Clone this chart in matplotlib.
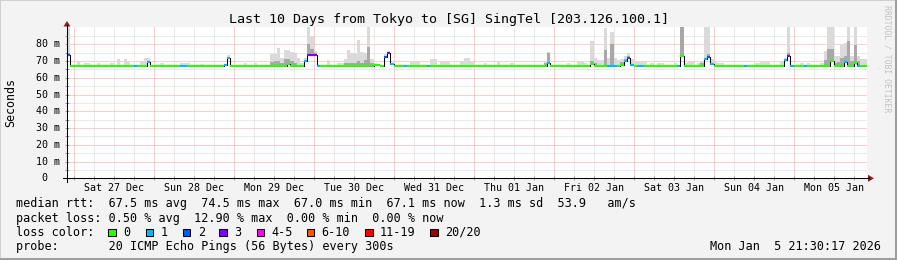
import numpy as np
import matplotlib
matplotlib.use("Agg")
import matplotlib.pyplot as plt
from matplotlib.patches import Rectangle, Polygon
from matplotlib.lines import Line2D

# ---------------- data (hourly bins) ----------------
TITLE = "Last 10 Days from Tokyo to [SG] SingTel [203.126.100.1]"
START_HOUR = -2.1          # graph start, hours relative to Sat 27 Dec 00:00
DAY_LABELS = ["Sat 27 Dec", "Sun 28 Dec", "Mon 29 Dec", "Tue 30 Dec", "Wed 31 Dec",
              "Thu 01 Jan", "Fri 02 Jan", "Sat 03 Jan", "Sun 04 Jan", "Mon 05 Jan"]
Y_TICKS = [0, 10, 20, 30, 40, 50, 60, 70, 80]
Y_LABELS = ["0", "10 m", "20 m", "30 m", "40 m", "50 m", "60 m", "70 m", "80 m"]

MEDIAN_MS = [
    73.4, 67.3, 67.1, 67.1, 67.1, 67.1, 67.1, 67.1, 67.1, 67.1, 67.1, 67.1, 67.1, 67.1, 67.1, 67.1, 67.1, 67.1, 67.1, 67.1, 67.1, 67.1, 67.1, 67.1,
    69.5, 67.1, 67.1, 67.1, 67.1, 67.1, 67.1, 67.1, 67.1, 67.1, 67.1, 67.1, 67.1, 67.1, 67.1, 67.1, 67.1, 67.1, 67.1, 67.1, 67.1, 67.1, 67.1, 67.9,
    71.5, 67.1, 67.1, 67.1, 67.1, 67.1, 67.1, 67.1, 67.1, 67.1, 67.1, 67.1, 67.1, 67.1, 67.1, 67.1, 67.1, 67.1, 68.4, 67.1, 67.1, 67.1, 67.1, 70.0,
    73.8, 73.8, 73.8, 67.2, 67.1, 67.1, 67.1, 67.1, 67.1, 67.1, 67.1, 67.1, 67.1, 67.1, 67.1, 67.1, 67.1, 67.1, 67.1, 67.1, 67.9, 67.9, 67.2, 72.6,
    74.6, 68.0, 67.1, 67.1, 67.1, 67.1, 67.1, 67.1, 67.1, 67.1, 67.1, 67.1, 67.1, 67.1, 67.1, 67.1, 67.1, 67.1, 67.1, 67.1, 67.1, 67.1, 67.1, 67.1,
    67.1, 67.1, 67.1, 67.1, 67.1, 67.1, 67.1, 67.1, 67.1, 67.1, 67.1, 67.1, 67.1, 67.1, 67.1, 67.1, 67.1, 67.1, 67.1, 67.1, 67.1, 67.1, 67.1, 67.1,
    69.0, 67.1, 67.1, 67.1, 67.1, 67.1, 67.1, 67.1, 67.1, 67.1, 67.1, 67.1, 67.1, 68.3, 67.1, 67.1, 67.1, 67.1, 67.1, 67.1, 67.1, 67.1, 67.8, 70.2,
    72.0, 67.5, 67.1, 67.1, 67.1, 67.1, 67.1, 67.1, 67.1, 67.1, 67.1, 67.1, 67.1, 67.1, 67.1, 67.1, 73.0, 67.1, 67.1, 67.1, 67.1, 67.1, 67.1, 71.4,
    72.6, 68.3, 67.1, 67.1, 67.1, 67.1, 67.1, 67.1, 67.1, 67.1, 67.1, 67.1, 67.1, 67.1, 67.1, 67.1, 67.1, 67.1, 67.1, 67.1, 67.1, 67.1, 67.1, 70.6,
    73.2, 67.3, 67.1, 67.1, 67.1, 67.1, 67.1, 67.1, 67.1, 67.1, 67.1, 67.1, 67.1, 70.2, 67.1, 67.1, 67.1, 69.2, 67.1, 67.1, 68.8, 67.3, 67.1, 67.1,
]

LOSS_PINGS = [
    2, 0, 0, 0, 0, 0, 0, 0, 0, 0, 0, 0, 0, 0, 0, 0, 0, 0, 0, 0, 1, 0, 0, 0,
    1, 0, 0, 0, 0, 0, 0, 0, 0, 0, 1, 1, 0, 0, 0, 0, 0, 0, 0, 0, 0, 0, 0, 1,
    1, 0, 0, 0, 0, 0, 0, 0, 0, 0, 0, 0, 0, 0, 0, 0, 0, 0, 0, 0, 0, 0, 0, 1,
    3, 3, 3, 1, 0, 0, 0, 0, 0, 0, 0, 0, 0, 0, 0, 0, 0, 0, 0, 0, 0, 0, 0, 2,
    3, 1, 0, 0, 0, 1, 0, 0, 0, 0, 0, 0, 1, 0, 0, 0, 0, 0, 0, 0, 0, 0, 0, 0,
    0, 0, 0, 0, 0, 0, 0, 0, 0, 0, 0, 0, 0, 0, 0, 0, 0, 0, 0, 0, 0, 0, 0, 0,
    1, 0, 0, 0, 0, 0, 0, 0, 0, 0, 0, 0, 0, 0, 0, 0, 0, 0, 1, 1, 1, 0, 0, 1,
    2, 1, 0, 1, 1, 0, 0, 0, 0, 0, 0, 0, 0, 0, 0, 1, 0, 0, 0, 0, 0, 0, 0, 1,
    2, 1, 0, 0, 0, 0, 0, 0, 0, 0, 0, 1, 0, 0, 0, 0, 0, 0, 0, 0, 0, 0, 0, 1,
    3, 1, 0, 0, 0, 1, 0, 0, 0, 0, 0, 0, 0, 0, 0, 0, 0, 1, 0, 0, 0, 1, 0, 0,
]

SMOKE_MAX_MS = [
    90.0, 67.3, 67.1, 69.5, 67.1, 68.8, 68.8, 67.1, 67.1, 69.0, 67.1, 67.1, 67.1, 68.5, 67.1, 71.0, 67.1, 71.0, 69.5, 67.1, 67.1, 67.1, 70.0, 71.5,
    72.0, 67.1, 67.1, 67.1, 68.5, 67.1, 67.1, 67.1, 67.1, 67.1, 68.8, 68.8, 68.8, 67.1, 67.1, 67.1, 68.0, 67.1, 67.1, 67.1, 67.1, 67.1, 67.1, 67.9,
    73.4, 67.1, 67.1, 67.1, 67.1, 69.0, 67.1, 67.1, 69.0, 67.1, 67.1, 67.1, 67.1, 74.4, 74.4, 77.8, 72.0, 76.4, 76.4, 75.5, 75.0, 72.0, 69.0, 72.0,
    90.0, 85.0, 76.0, 67.2, 67.1, 67.1, 70.4, 67.1, 67.1, 68.5, 68.5, 71.0, 76.4, 74.6, 74.6, 82.4, 75.4, 75.0, 90.0, 71.0, 68.5, 67.9, 67.2, 74.0,
    76.0, 68.0, 67.1, 67.1, 67.1, 67.1, 67.1, 69.4, 69.4, 69.4, 67.1, 67.1, 67.1, 71.0, 71.0, 67.1, 69.5, 69.5, 69.5, 67.1, 67.1, 67.1, 70.0, 71.5,
    71.5, 70.0, 67.1, 67.1, 67.1, 68.5, 67.1, 67.1, 67.1, 69.5, 67.1, 67.1, 67.1, 68.5, 67.1, 67.1, 67.1, 67.1, 67.1, 67.1, 67.1, 67.1, 67.1, 70.0,
    75.5, 67.1, 67.1, 67.1, 67.1, 67.1, 69.0, 67.1, 67.1, 69.5, 70.0, 69.0, 67.1, 82.0, 72.0, 70.5, 70.5, 89.5, 72.0, 87.0, 72.0, 70.5, 71.0, 73.0,
    75.0, 71.0, 70.0, 69.5, 69.5, 69.5, 67.1, 69.0, 67.1, 69.0, 69.0, 67.1, 67.1, 67.1, 68.5, 67.1, 90.0, 69.0, 69.5, 69.5, 67.1, 69.0, 70.0, 90.0,
    90.0, 71.0, 69.5, 68.5, 68.5, 67.1, 67.1, 67.1, 67.1, 67.1, 67.1, 67.1, 67.1, 67.1, 69.0, 69.0, 69.5, 69.5, 69.5, 67.1, 67.1, 67.1, 70.0, 72.0,
    90.0, 67.3, 67.1, 67.1, 69.0, 67.1, 69.0, 67.1, 67.1, 67.1, 69.0, 76.2, 90.0, 90.0, 73.2, 73.2, 80.0, 81.0, 90.0, 73.0, 90.0, 73.0, 71.0, 71.0,
]

SMOKE_DARK_MS = [
    74.5, 67.3, 67.1, 67.1, 67.1, 67.1, 67.1, 67.1, 67.1, 67.1, 67.1, 67.1, 67.1, 67.1, 67.1, 67.1, 67.1, 67.1, 67.1, 67.1, 67.1, 67.1, 67.1, 67.1,
    70.0, 67.1, 67.1, 67.1, 67.1, 67.1, 67.1, 67.1, 67.1, 67.1, 67.1, 67.1, 67.1, 67.1, 67.1, 67.1, 67.1, 67.1, 67.1, 67.1, 67.1, 67.1, 67.1, 67.9,
    72.0, 67.1, 67.1, 67.1, 67.1, 67.1, 67.1, 67.1, 67.1, 67.1, 67.1, 67.1, 67.1, 69.5, 70.0, 70.0, 69.0, 71.0, 71.0, 70.0, 69.0, 67.1, 67.1, 70.0,
    80.0, 77.0, 74.5, 67.2, 67.1, 67.1, 67.1, 67.1, 67.1, 67.1, 67.1, 68.5, 69.0, 68.5, 69.0, 70.0, 69.0, 70.5, 78.4, 68.5, 67.9, 67.9, 67.2, 73.0,
    75.0, 68.0, 67.1, 67.1, 67.1, 67.1, 67.1, 67.1, 67.1, 67.1, 67.1, 67.1, 67.1, 67.1, 67.1, 67.1, 67.1, 67.1, 67.1, 67.1, 67.1, 67.1, 67.1, 67.1,
    67.1, 67.1, 67.1, 67.1, 67.1, 67.1, 67.1, 67.1, 67.1, 67.1, 67.1, 67.1, 67.1, 67.1, 67.1, 67.1, 67.1, 67.1, 67.1, 67.1, 67.1, 67.1, 67.1, 69.0,
    74.5, 67.1, 67.1, 67.1, 67.1, 67.1, 67.1, 67.1, 67.1, 67.1, 67.1, 67.1, 67.1, 70.0, 69.0, 67.1, 67.1, 76.4, 67.1, 80.0, 67.1, 67.1, 69.5, 71.0,
    73.0, 67.5, 67.1, 67.1, 67.1, 67.1, 67.1, 67.1, 67.1, 67.1, 67.1, 67.1, 67.1, 67.1, 67.1, 67.1, 90.0, 67.1, 67.1, 67.1, 67.1, 67.1, 68.5, 72.0,
    74.0, 68.3, 67.1, 67.1, 67.1, 67.1, 67.1, 67.1, 67.1, 67.1, 67.1, 67.1, 67.1, 67.1, 67.1, 67.1, 67.1, 67.1, 67.1, 67.1, 67.1, 67.1, 67.1, 71.0,
    74.5, 67.3, 67.1, 67.1, 67.1, 67.1, 67.1, 67.1, 67.1, 67.1, 67.1, 70.4, 77.0, 77.0, 69.0, 69.5, 72.0, 73.0, 82.0, 70.0, 79.4, 70.0, 67.1, 67.1,
]

LOSS_BINS = ["0", "1", "2", "3", "4-5", "6-10", "11-19", "20/20"]
LOSS_COLORS = ["#26ff00", "#00b8ff", "#0059ff", "#7e00ff", "#ff00ff", "#ff5500", "#ff0000", "#a10000"]

LEGEND_RTT = "median rtt:  67.5 ms avg  74.5 ms max  67.0 ms min  67.1 ms now  1.3 ms sd  53.9   am/s"
LEGEND_LOSS = "packet loss: 0.50 % avg  12.90 % max  0.00 % min  0.00 % now"
LEGEND_PROBE = "probe:       20 ICMP Echo Pings (56 Bytes) every 300s"
TIMESTAMP = "Mon Jan  5 21:30:17 2026"
WATERMARK = "RRDTOOL / TOBI OETIKER"

# ---------------- figure ----------------
W, H = 897, 260
MONO = "DejaVu Sans Mono"
plt.rcParams["font.family"] = MONO

def fx(x):
    return x / W

def fy(y):
    return 1 - y / H

fig = plt.figure(figsize=(W / 100, H / 100), dpi=100, facecolor="#f3f3f3")

# 3D frame
fig.patches.append(Rectangle((0, 0), 1, 1, transform=fig.transFigure, fill=False,
                             edgecolor="#cfcfcf", lw=1.4))
fig.add_artist(Line2D([fx(895.5), fx(895.5)], [fy(0), fy(260)], color="#9e9e9e", lw=2.2))
fig.add_artist(Line2D([fx(0), fx(897)], [fy(258.5), fy(258.5)], color="#9e9e9e", lw=2.2))

ax_left, ax_right, ax_top, ax_bot = 67, 867, 27.3, 178.3
ax = fig.add_axes([fx(ax_left), fy(ax_bot), (ax_right - ax_left) / W, (ax_bot - ax_top) / H])
ax.set_facecolor("white")
for s in ax.spines.values():
    s.set_visible(False)

n = len(MEDIAN_MS)
med = np.array(MEDIAN_MS)
hi = np.array(SMOKE_MAX_MS)
dk = np.array(SMOKE_DARK_MS)
loss = np.array(LOSS_PINGS)
t = START_HOUR + np.arange(n)
edges = np.append(t, t[-1] + 1)

ax.set_xlim(START_HOUR, START_HOUR + n)
ax.set_ylim(0, 90.1)

# grid
dots = (0, (1, 1))
for y in range(5, 90, 5):
    major = (y % 10 == 0)
    ax.axhline(y, color="#f4a0a0" if major else "#d6d6d6", lw=0.72, ls=dots, zorder=1)
for h in range(0, int(START_HOUR + n) + 1, 6):
    major = (h % 24 == 0)
    ax.axvline(h, color="#f4a0a0" if major else "#d6d6d6", lw=0.72, ls=dots, zorder=1)

# smoke
ax.fill_between(edges, np.append(med, med[-1]), np.append(hi, hi[-1]), step="post",
                color="#dadada", lw=0, zorder=2)
ax.fill_between(edges, np.append(med, med[-1]), np.append(np.maximum(dk, med), dk[-1]),
                step="post", color="#a8a8a8", lw=0, zorder=3)

# median line
ax.step(edges, np.append(med, med[-1]), where="post", color="black", lw=0.75, zorder=4)

def loss_bin(k):
    if k <= 3:
        return int(k)
    if k <= 5:
        return 4
    if k <= 10:
        return 5
    if k <= 19:
        return 6
    return 7

cols = [LOSS_COLORS[loss_bin(k)] for k in loss]
ax.hlines(med, t, t + 1, colors=cols, lw=1.5, zorder=5)

# ticks
ax.set_xticks(list(range(0, int(START_HOUR + n) + 1, 6)))
ax.set_yticks(list(range(0, 90, 5)))
ax.set_xticklabels([])
ax.set_yticklabels([])
ax.tick_params(which="both", direction="inout", length=3.0, width=0.6, color="#888888")

# tick labels
for i, lab in enumerate(DAY_LABELS):
    ax.text(12 + 24 * i, -9.6 / (ax_bot - ax_top), lab, transform=ax.get_xaxis_transform(),
            ha="center", va="center", fontsize=7.2, family=MONO, color="black")
for v, lab in zip(Y_TICKS, Y_LABELS):
    xr = (60.5 - ax_left) / (ax_right - ax_left) if lab != "0" else (47.8 - ax_left) / (ax_right - ax_left)
    ax.text(xr, v, lab, transform=ax.get_yaxis_transform(), ha="right", va="center",
            fontsize=7.2, family=MONO, color="black")

# axes lines and arrows
fig.add_artist(Line2D([fx(67), fx(67)], [fy(182), fy(25)], color="black", lw=0.75))
fig.add_artist(Line2D([fx(62.5), fx(869)], [fy(178.3), fy(178.3)], color="black", lw=0.75))
fig.add_artist(Polygon([[fx(63.5), fy(26.5)], [fx(70.5), fy(26.5)], [fx(67), fy(21)]],
                       closed=True, transform=fig.transFigure, color="#8b1a1a", lw=0))
fig.add_artist(Polygon([[fx(868), fy(174.8)], [fx(868), fy(181.8)], [fx(874), fy(178.3)]],
                       closed=True, transform=fig.transFigure, color="#8b1a1a", lw=0))

# title, axis label, watermark
fig.text(fx(448.5), fy(19), TITLE, ha="center", va="center", fontsize=9.6, family=MONO)
fig.text(fx(11), fy(103), "Seconds", rotation=90, ha="center", va="center", fontsize=8.4, family=MONO)
fig.text(fx(886.5), fy(59), WATERMARK, rotation=270, ha="center", va="center", fontsize=5.9,
         family=MONO, color="#c2c2c2")

# legend
LEG_FS = 8.5
fig.text(fx(16), fy(204), LEGEND_RTT, ha="left", va="center", fontsize=LEG_FS, family=MONO)
fig.text(fx(16), fy(218.3), LEGEND_LOSS, ha="left", va="center", fontsize=LEG_FS, family=MONO)
fig.text(fx(16), fy(232.3), "loss color:", ha="left", va="center", fontsize=LEG_FS, family=MONO)
sq_x = [108.3, 145.7, 182.7, 219.3, 256.7, 306.7, 365.0, 430.0]
for sx, lab, c in zip(sq_x, LOSS_BINS, LOSS_COLORS):
    fig.patches.append(Rectangle((fx(sx), fy(236.3)), 7.7 / W, 7.7 / H, transform=fig.transFigure,
                                 facecolor=c, edgecolor="black", lw=0.75))
    fig.text(fx(sx + 15), fy(232.3), lab, ha="left", va="center", fontsize=LEG_FS, family=MONO)
fig.text(fx(16), fy(246.7), LEGEND_PROBE, ha="left", va="center", fontsize=LEG_FS, family=MONO)
fig.text(fx(880.5), fy(246.7), TIMESTAMP, ha="right", va="center", fontsize=LEG_FS, family=MONO)

fig.savefig("out.png", dpi=100, facecolor=fig.get_facecolor())
